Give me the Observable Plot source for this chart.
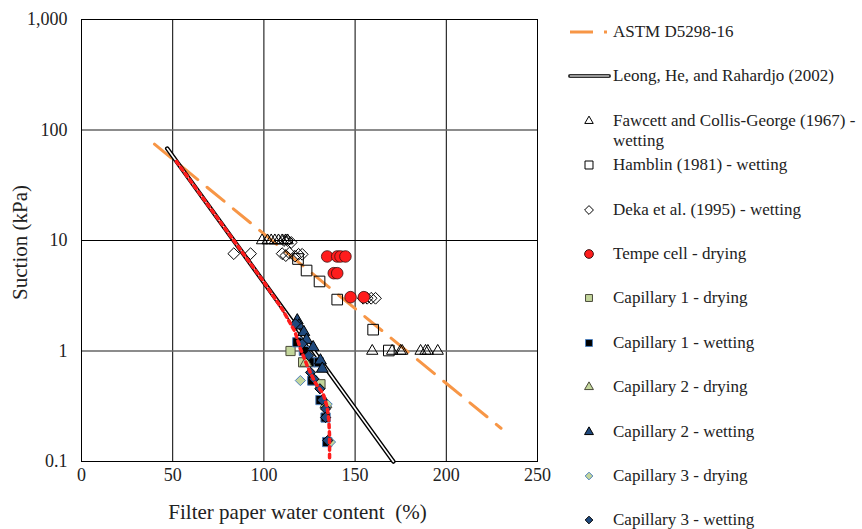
<!DOCTYPE html>
<html>
<head>
<meta charset="utf-8">
<script src="https://cdn.jsdelivr.net/npm/d3@7"></script>
<script src="https://cdn.jsdelivr.net/npm/@observablehq/plot@0.6"></script>
<style>
  html, body { margin: 0; padding: 0; background: white; }
  #wrap { position: relative; width: 862px; height: 529px; font-family: "Liberation Serif", "Times New Roman", serif; color: #222; }
  #plot { position: absolute; left: 0; top: 0; }
  .lg { position: absolute; font-size: 17px; line-height: 20px; }
  .lg svg { position: absolute; left: 0; top: 0; overflow: visible; }
  .lg .t { position: absolute; left: 53px; top: 0; width: 256px; }
</style>
</head>
<body>
<div id="wrap"><div id="plot"></div><div id="legend"></div></div>
<script>
// ---------- data ----------
const xTicks = [0, 50, 100, 150, 200, 250];
const yTicks = [0.1, 1, 10, 100, 1000];
const xGrid = [50, 100, 150, 200];
const yGridMajor = [10];
const yGridMinor = [1, 100];

const xLabel = "Filter paper water content\u00a0 (%)";
const yLabel = "Suction (kPa)";

// calibration lines (end points)
const astmW = [40, 230];
const astmS = [74.5, 0.2];
const leongW = [47, 171];
const leongS = [68, 0.1];
// red dotted fitted curve
const fitW = [52, 80, 100, 110, 117, 120, 124, 128, 132.5, 134.7, 135.6, 136, 136];
const fitS = [52, 12, 4.2, 2.4, 1.5, 1.05, 0.72, 0.52, 0.41, 0.31, 0.235, 0.17, 0.1];

// literature data
const fawcettW = [99, 102, 104, 106, 108, 110, 112, 113, 159.4, 170.3, 174.9, 175.8, 185.9, 188.6, 189.9, 195.3];
const fawcettS = [10, 10, 10, 10, 10, 10, 10, 10, 1, 1, 1, 1, 1, 1, 1, 1];
const hamblinW = [118.7, 123.4, 130.5, 140.2, 159.9, 168.5];
const hamblinS = [6.8, 5.35, 4.26, 2.92, 1.56, 1.01];
const dekaW = [83.5, 92.7, 111, 113, 115, 110, 112, 114, 117, 119, 121, 154.4, 156.6, 158.8, 161.2];
const dekaS = [7.6, 7.6, 10, 10, 9.6, 7.6, 7.3, 7.7, 7.2, 7.5, 7.5, 3, 3, 3, 3];
const tempeW = [134.7, 140.2, 142.0, 144.7, 138.3, 140.2, 147.5, 154.8];
const tempeS = [7.17, 7.17, 7.17, 7.17, 5.06, 5.06, 3.07, 3.07];

// capillary data
const cap1dW = [114.6, 121.5, 131];
const cap1dS = [1.0, 0.79, 0.5];
const cap1wW = [118.3, 121.9, 125.6, 130.1, 126.5, 131, 133.8, 134.7];
const cap1wS = [1.2, 1.0, 0.79, 0.79, 0.54, 0.36, 0.25, 0.15];
const cap2dW = [123, 134];
const cap2dS = [0.78, 0.33];
const cap2wW = [118.3, 119.2, 121.9, 123.4, 127, 131, 132];
const cap2wS = [1.89, 1.70, 1.48, 1.26, 1.08, 0.82, 0.69];
const cap3dW = [120, 134.7, 136.5];
const cap3dS = [0.54, 0.33, 0.15];
const cap3wW = [117.3, 121, 124.6, 125.6, 127.4, 130.7, 132, 133.8, 133.8, 135];
const cap3wS = [1.76, 1.16, 0.91, 0.64, 0.56, 0.455, 0.36, 0.30, 0.25, 0.155];

// ---------- helpers ----------
const zip = (w, s) => w.map((v, i) => ({w: v, s: s[i]}));

const lightGreen = "#c3d69b";
const blueEdge = "#4f81bd";
const darkBlue = "#1f497d";
const orange = "#f79646";
const red = "#ff1d1d";

const series = [
  {label: "ASTM D5298-16", kind: "astm"},
  {label: "Leong, He, and Rahardjo (2002)", kind: "leong"},
  {label: "Fawcett and Collis-George (1967) - wetting", data: zip(fawcettW, fawcettS), symbol: "triangle", r: 4.2, fill: "none", stroke: "#000", sw: 1},
  {label: "Hamblin (1981) - wetting", data: zip(hamblinW, hamblinS), symbol: "square", r: 6.0, fill: "none", stroke: "#000", sw: 1},
  {label: "Deka et al. (1995) - wetting", data: zip(dekaW, dekaS), symbol: "diamond2", r: 5.3, fill: "none", stroke: "#000", sw: 1},
  {label: "Tempe cell - drying", data: zip(tempeW, tempeS), symbol: "circle", r: 5.8, fill: red, stroke: "#3a1010", sw: 0.8},
  {label: "Capillary 1 - drying", data: zip(cap1dW, cap1dS), symbol: "square", r: 5.2, fill: lightGreen, stroke: "#4a4a3a", sw: 1},
  {label: "Capillary 1 - wetting", data: zip(cap1wW, cap1wS), symbol: "square", r: 5.2, fill: "#000", stroke: blueEdge, sw: 1},
  {label: "Capillary 2 - drying", data: zip(cap2dW, cap2dS), symbol: "triangle", r: 4.4, fill: lightGreen, stroke: "#4a4a3a", sw: 1},
  {label: "Capillary 2 - wetting", data: zip(cap2wW, cap2wS), symbol: "triangle", r: 4.4, fill: darkBlue, stroke: "#000", sw: 1},
  {label: "Capillary 3 - drying", data: zip(cap3dW, cap3dS), symbol: "diamond2", r: 4.6, fill: lightGreen, stroke: blueEdge, sw: 1},
  {label: "Capillary 3 - wetting", data: zip(cap3wW, cap3wS), symbol: "diamond2", r: 4.6, fill: darkBlue, stroke: "#000", sw: 1}
];

// ---------- plot ----------
const marks = [
  Plot.gridX(xGrid, {stroke: "#000", strokeOpacity: 1}),
  Plot.gridY(yGridMajor, {stroke: "#000", strokeOpacity: 1}),
  Plot.gridY(yGridMinor, {stroke: "#666", strokeOpacity: 1, strokeWidth: 1.6}),
  Plot.frame({stroke: "#000"}),
  Plot.axisX({ticks: xTicks, tickSize: 0, tickPadding: 7, fontSize: 18, label: null}),
  Plot.axisY({ticks: yTicks, tickSize: 0, tickPadding: 14, fontSize: 18, label: null, tickFormat: d3.format(",")}),
  Plot.text([xLabel], {frameAnchor: "bottom", textAnchor: "middle", lineAnchor: "middle", dx: -12, dy: 51, fontSize: 21, text: d => d}),
  Plot.text([yLabel], {frameAnchor: "left", textAnchor: "middle", lineAnchor: "middle", dx: -61, dy: 2, rotate: -90, fontSize: 21, text: d => d}),
  Plot.line(zip(astmW, astmS), {x: "w", y: "s", stroke: orange, strokeWidth: 3, strokeDasharray: "22,12"}),
  Plot.line(zip(leongW, leongS), {x: "w", y: "s", stroke: "#000", strokeWidth: 4.5}),
  Plot.line(zip(leongW, leongS), {x: "w", y: "s", stroke: "#fff", strokeWidth: 1.6})
];
for (const sr of series) {
  if (!sr.data) continue;
  marks.push(Plot.dot(sr.data, {x: "w", y: "s", symbol: () => sr.symbol, r: sr.r, fill: sr.fill, stroke: sr.stroke, strokeWidth: sr.sw}));
}
marks.push(Plot.line(zip(fitW, fitS), {x: "w", y: "s", stroke: red, strokeWidth: 3.5, strokeDasharray: "3.5,4"}));

const chart = Plot.plot({
  width: 560,
  height: 529,
  marginLeft: 81,
  marginRight: 23,
  marginTop: 19,
  marginBottom: 68,
  style: {fontFamily: "'Liberation Serif', 'Times New Roman', serif", color: "#222", background: "white"},
  x: {domain: [0, 250]},
  y: {type: "log", domain: [0.1, 1000]},
  symbol: {type: "identity"},
  marks
});
document.getElementById("plot").appendChild(chart);

// ---------- legend ----------
const legend = d3.select("#legend");
series.forEach((sr, i) => {
  const yc = 32 + 44.4 * i;
  const row = legend.append("div").attr("class", "lg").style("left", "560px").style("top", (yc - 10) + "px");
  const svg = row.append("svg").attr("width", 52).attr("height", 20);
  if (sr.kind === "astm") {
    svg.append("line").attr("x1", 10).attr("x2", 49).attr("y1", 10).attr("y2", 10)
      .attr("stroke", orange).attr("stroke-width", 3).attr("stroke-dasharray", "23,11,3,20");
  } else if (sr.kind === "leong") {
    svg.append("line").attr("x1", 10).attr("x2", 49).attr("y1", 10).attr("y2", 10).attr("stroke", "#333").attr("stroke-width", 4).attr("stroke-linecap", "round");
    svg.append("line").attr("x1", 10).attr("x2", 49).attr("y1", 10).attr("y2", 10).attr("stroke", "#bbb").attr("stroke-width", 1.4);
  } else {
    const sym = {triangle: d3.symbolTriangle, square: d3.symbolSquare, diamond2: d3.symbolDiamond2, circle: d3.symbolCircle}[sr.symbol];
    const size = Math.PI * Math.pow(sr.r * 0.75, 2);
    svg.append("path").attr("d", d3.symbol(sym, size)()).attr("transform", "translate(29,10)")
      .attr("fill", sr.fill === "none" ? "none" : sr.fill).attr("stroke", sr.stroke).attr("stroke-width", 1);
  }
  row.append("div").attr("class", "t").style("left", "53px").text(sr.label);
});
</script>
</body>
</html>
